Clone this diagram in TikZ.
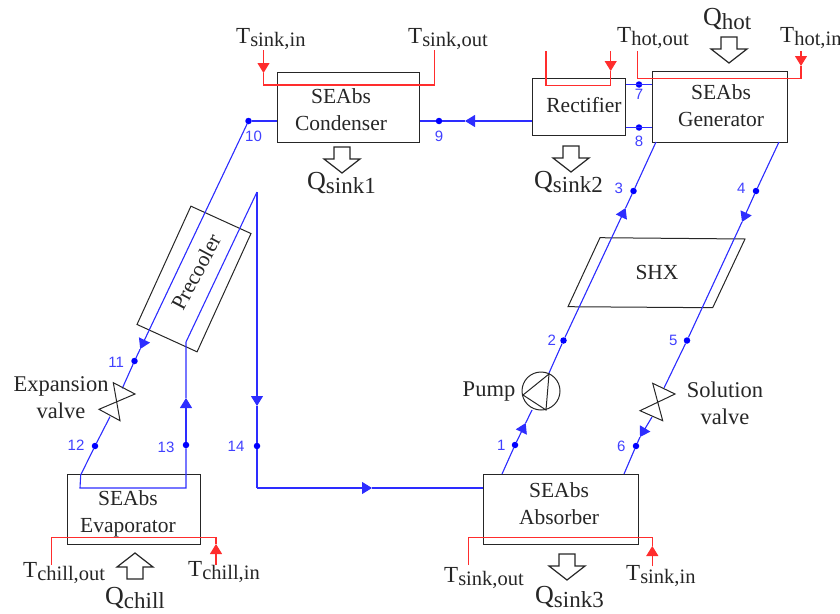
\documentclass[tikz,border=0pt]{standalone}
\usepackage{fontspec}
\setmainfont{Liberation Serif}
\setsansfont{Liberation Sans}
\usetikzlibrary{positioning,arrows.meta}
\definecolor{waterred}{RGB}{255,45,45}
\definecolor{flowblue}{RGB}{45,45,255}
\tikzset{
  box/.style={draw=black!85,line width=1pt,minimum width=#1,inner sep=0pt},
  flow/.style={draw=flowblue,fill=flowblue,line width=1.1pt},
  flowtip/.style={flow,-{Triangle[length=10pt,width=12pt]}},
  water/.style={draw=waterred,fill=none,line width=1.1pt},
  watertip/.style={draw=waterred,fill=waterred,line width=1.1pt,-{Triangle[length=10pt,width=12pt]}},
  state/.style={circle,fill=blue,inner sep=0pt,minimum size=6.5pt},
  num/.style={text=blue!75!white,font=\fontsize{15}{15}\sffamily,inner sep=0pt},
  lbl/.style={text=black!85,font=\fontsize{21.5}{27}\selectfont,align=center,inner sep=0pt},
  biglbl/.style={lbl,font=\fontsize{22.5}{27}\selectfont},
  sublbl/.style={lbl,anchor=base west},
  hollow/.style={draw=black!85,line width=1.2pt,fill=white},
  symbol/.style={draw=black!85,line width=1pt}
}
\newcommand{\tlabel}[1]{\raisebox{3pt}{\fontsize{23}{23}\selectfont T}\fontsize{20.5}{20.5}\selectfont #1}
\newcommand{\qlabel}[1]{\raisebox{3.5pt}{\fontsize{26}{26}\selectfont Q}\fontsize{23}{23}\selectfont #1}
\begin{document}
\begin{tikzpicture}[x=1pt,y=-1pt]
  \useasboundingbox (0,0) rectangle (840,613);

  \node[state] (s10) at (248.5,121) {};
  \node[state] (s9) at (439,121) {};
  \node[state] (s7) at (639,84.5) {};
  \node[state] (s8) at (639,127.5) {};
  \node[state] (s3) at (633.5,191) {};
  \node[state] (s4) at (756,191) {};
  \node[state] (s2) at (563.5,340.5) {};
  \node[state] (s5) at (687,340.5) {};
  \node[state] (s1) at (515,445) {};
  \node[state] (s6) at (636,446) {};
  \node[state] (s11) at (134.5,361) {};
  \node[state] (s12) at (95,446) {};
  \node[state] (s13) at (186,445) {};
  \node[state] (s14) at (257,446) {};

  \node[num,below=6pt of s10,xshift=5pt] (n10) {10};
  \node[num,below=6pt of s9] (n9) {9};
  \node[num,below=1pt of s7] (n7) {7};
  \node[num,below=5pt of s8] (n8) {8};
  \node[num,left=7pt of s3,yshift=3pt] (n3) {3};
  \node[num,left=7pt of s4,yshift=3pt] (n4) {4};
  \node[num,left=4pt of s2] (n2) {2};
  \node[num,left=6pt of s5] (n5) {5};
  \node[num,left=6pt of s1] (n1) {1};
  \node[num,left=7pt of s6] (n6) {6};
  \node[num,left=7pt of s11,yshift=-1pt] (n11) {11};
  \node[num,left=7pt of s12,yshift=1pt] (n12) {12};
  \node[num,left=8pt of s13,yshift=-2pt] (n13) {13};
  \node[num,left=9pt of s14] (n14) {14};

  \node[box=142pt,minimum height=70pt] (condenser) at (348,107) {};
  \node[box=93pt,minimum height=57pt] (rectifier) at (578.5,106.5) {};
  \node[box=135pt,minimum height=71pt] (generator) at (719.5,106.5) {};
  \node[box=133pt,minimum height=70pt] (evaporator) at (133.5,509) {};
  \node[box=155pt,minimum height=70pt] (absorber) at (560.5,509) {};
  \node[box=66pt,minimum height=130pt,rotate=-24.5] (precooler) at (194,279) {};
  \draw[symbol] (600,237.7) -- (745,239) -- (712.7,307.7) -- (568,306.7) -- cycle;

  \coordinate (evapL) at (80,488);
  \coordinate (evapT) at (80.7,475);
  \coordinate (evapR) at (186,488);
  \coordinate (preB) at (186,342);
  \coordinate (preT) at (257,192);
  \coordinate (absL) at (257,488);
  \coordinate (gen3) at (656,142);
  \coordinate (gen4) at (779,142);
  \coordinate (abs1) at (502,474);
  \coordinate (abs6) at (624,474);
  \coordinate (pumpB) at (532,410);
  \coordinate (pumpT) at (549,373);
  \coordinate (solT) at (664,388);
  \coordinate (solB) at (652,417);
  \coordinate (expT) at (122.3,388.3);
  \coordinate (expB) at (110,416.7);
  \coordinate (a1) at (525.7,423);
  \coordinate (a3) at (625.6,208);
  \coordinate (a4) at (742,222);
  \coordinate (a6) at (640,437);
  \coordinate (a9) at (465,121);
  \coordinate (a11) at (140.2,349);
  \coordinate (a13) at (186,398);
  \coordinate (a14) at (257,406);
  \coordinate (aabs) at (372,488);

  \draw[flow] (s10) -- (s10 -| condenser.west);
  \draw[flowtip] (s10) -- (a11);
  \draw[flow] (a11) -- (s11) -- (expT);
  \draw[flow,fill=none] (expB) -- (s12) -- (evapT) -- (evapL) -- (evapR) -- (s13);
  \draw[flowtip] (s13) -- (a13);
  \draw[flow,fill=none] (a13) -- (preB) -- (preT);
  \draw[flowtip] (preT) -- (a14);
  \draw[flow] (a14) -- (s14) -- (absL);
  \draw[flowtip] (absL) -- (aabs);
  \draw[flow] (aabs) -- (absL -| absorber.west);
  \draw[flowtip] (s9 -| rectifier.west) -- (a9);
  \draw[flow] (a9) -- (s9) -- (s9 -| condenser.east);
  \draw[flow] (s7 -| rectifier.east) -- (s7 -| generator.west);
  \draw[flow] (s8 -| rectifier.east) -- (s8 -| generator.west);
  \draw[flow] (abs1) -- (s1);
  \draw[flowtip] (s1) -- (a1);
  \draw[flow] (a1) -- (pumpB);
  \draw[flow] (pumpT) -- (s2);
  \draw[flowtip] (s2) -- (a3);
  \draw[flow] (a3) -- (s3) -- (gen3);
  \draw[flow] (gen4) -- (s4);
  \draw[flowtip] (s4) -- (a4);
  \draw[flow] (a4) -- (s5) -- (solT);
  \draw[flowtip] (solB) -- (a6);
  \draw[flow] (a6) -- (s6) -- (abs6);

  \foreach \n/\xa/\xb/\ya/\yb/\yc in {cond/263.5/434.5/50/85/50,rect/546/610.7/51/85.7/51,gen/637.7/801/51/78.3/51,evap/51.7/216/565/537.7/565,abs/468.3/652.3/565/537.7/566}{
    \coordinate (\n A) at (\xa,\ya);
    \coordinate (\n B) at (\xa,\yb);
    \coordinate (\n C) at (\xb,\yb);
    \coordinate (\n D) at (\xb,\yc);
  }
  \coordinate (condtip) at (263.5,73);
  \coordinate (recttip) at (610.7,71);
  \coordinate (gentip) at (801,66);
  \coordinate (evaptip) at (216,544);
  \coordinate (abstip) at (652.3,546);
  \draw[watertip] (condA) -- (condtip);
  \draw[water] (condtip) -- (condB) -- (condC) -- (condD);
  \draw[water] (rectA) -- (rectB) -- (rectC) -- (recttip);
  \draw[watertip] (rectD) -- (recttip);
  \draw[water] (genA) -- (genB) -- (genC) -- (gentip);
  \draw[watertip] (genD) -- (gentip);
  \draw[water] (evapA) -- (evapB) -- (evapC) -- (evaptip);
  \draw[watertip] (evapD) -- (evaptip);
  \draw[water] (absA) -- (absB) -- (absC) -- (abstip);
  \draw[watertip] (absD) -- (abstip);

  \node[lbl] (condensertext) at (341,110) {SEAbs\\Condenser};
  \node[lbl] (rectifiertext) at (584,105) {Rectifier};
  \node[lbl] (generatortext) at (721,106) {SEAbs\\Generator};
  \node[lbl] (evaporatortext) at (128,514) {SEAbs\\Evaporator};
  \node[lbl] (absorbertext) at (559,504) {SEAbs\\Absorber};
  \node[lbl] (shxtext) at (657,272) {SHX};
  \node[lbl,rotate=62] (precoolertext) at (196,272) {Precooler};
  \node[biglbl] (expansiontext) at (61,398) {Expansion\\valve};
  \node[biglbl] (pumptext) at (489,392) {Pump};
  \node[biglbl] (solutiontext) at (725,403) {Solution\\valve};

  \node[circle,symbol,inner sep=0pt,minimum size=38pt] (pump) at (541,391) {};
  \draw[symbol] (549,374) -- (523,395) -- (546,410) -- cycle;
  \draw[symbol] (113.3,382.7) -- (135,394) -- (99,409.3) -- (120,420.7) -- cycle;
  \draw[symbol] (652.7,383.3) -- (675,394) -- (640,410.7) -- (662.7,420.7) -- cycle;

  \foreach \x/\y in {729/63,342/173,571/172,567/580}
    \draw[hollow,shift={(\x,\y)}] (-8,-26) -- (8,-26) -- (8,-14) -- (18,-14) -- (0,0) -- (-18,-14) -- (-8,-14) -- cycle;
  \draw[hollow,shift={(135,553)}] (-8,26) -- (8,26) -- (8,14) -- (18,14) -- (0,0) -- (-18,14) -- (-8,14) -- cycle;

  \node[sublbl] (tsinkin) at (236,46) {\tlabel{sink,in}};
  \node[sublbl] (tsinkout) at (408,46) {\tlabel{sink,out}};
  \node[sublbl] (thotout) at (617,45) {\tlabel{hot,out}};
  \node[sublbl] (thotin) at (780,45) {\tlabel{hot,in}};
  \node[sublbl] (tchillout) at (23,580) {\tlabel{chill,out}};
  \node[sublbl] (tchillin) at (188,579) {\tlabel{chill,in}};
  \node[sublbl] (tabsout) at (444,585) {\tlabel{sink,out}};
  \node[sublbl] (tabsin) at (626,583) {\tlabel{sink,in}};
  \node[sublbl] (qhot) at (703,29) {\qlabel{hot}};
  \node[sublbl] (qsinkone) at (307,193) {\qlabel{sink1}};
  \node[sublbl] (qsinktwo) at (534,192) {\qlabel{sink2}};
  \node[sublbl] (qsinkthree) at (535,607) {\qlabel{sink3}};
  \node[sublbl] (qchill) at (105,608) {\qlabel{chill}};
\end{tikzpicture}
\end{document}
